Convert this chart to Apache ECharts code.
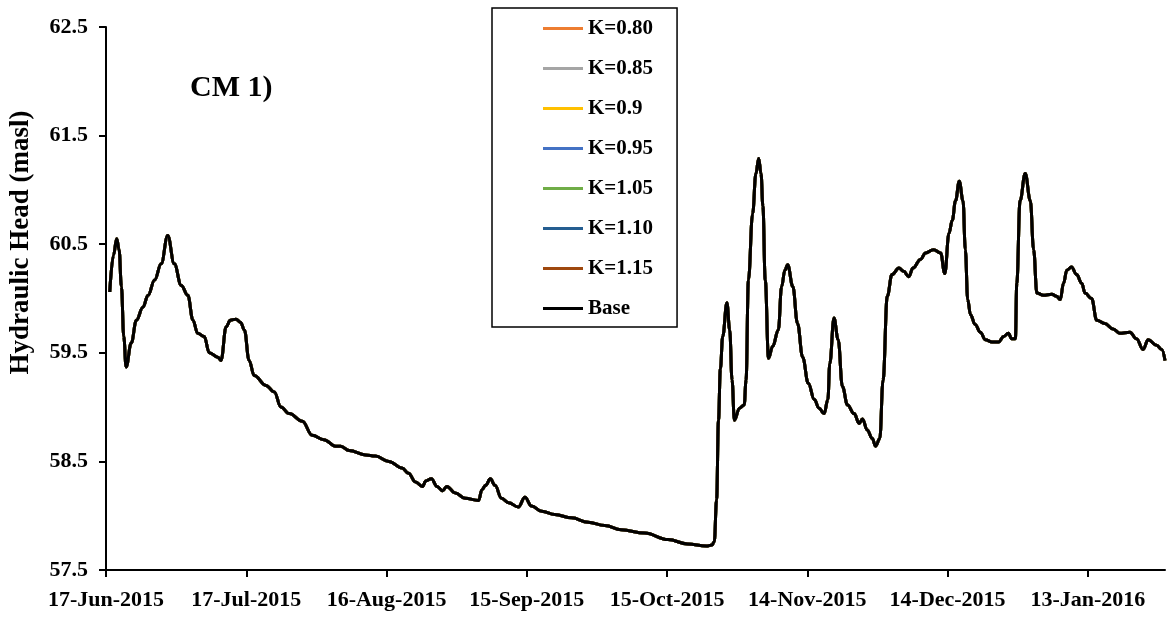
<!DOCTYPE html>
<html>
<head>
<meta charset="utf-8">
<script src="https://cdn.jsdelivr.net/npm/echarts@6/dist/echarts.min.js"></script>
<style>html,body{margin:0;padding:0;background:#fff}#chart{width:1167px;height:622px}</style>
</head>
<body>
<div id="chart"></div>
<script>
// Day offsets since 17-Jun-2015
const START_DATE = '2015-06-17';
const dayOffset = [0.8,1.6,2.3,2.8,3.3,3.8,4.3,5.4,6.5,7.9,9.0,10.4,11.8,13.2,14.6,16.1,17.5,18.6,19.6,21.0,22.1,23.9,24.6,25.7,26.6,27.8,28.8,29.6,30.6,31.7,34.2,36.0,37.4,39.2,42.0,44.1,46.6,49.1,50.2,52.0,55.5,57.6,60.5,63.3,64.7,66.2,67.7,68.4,69.6,70.8,72.0,72.9,74.7,76.8,79.7,80.4,81.2,82.2,83.2,84.6,86.1,88.2,89.6,91.0,93.2,96.0,99.6,103.1,106.7,110.2,115.2,120.2,124.4,128.4,129.6,130.1,130.6,131.0,131.4,131.9,132.8,133.4,133.9,134.4,135.5,136.5,136.9,137.4,138.3,139.0,139.6,140.1,140.5,141.0,141.7,142.6,143.8,144.5,145.2,145.8,146.9,147.9,149.0,150.2,151.5,152.5,153.6,154.4,154.8,155.7,156.6,157.5,158.6,160.0,161.1,161.8,162.8,163.9,164.6,165.5,166.2,167.1,168.1,169.6,170.6,171.7,172.6,174.2,175.3,177.0,178.5,179.4,180.3,181.0,181.7,182.5,183.3,183.8,184.3,184.9,185.9,187.0,188.1,189.5,190.9,192.0,193.0,193.7,194.5,194.8,195.5,196.6,197.7,198.4,199.1,200.5,202.3,203.3,204.1,204.8,205.5,206.5,207.6,208.7,209.4,210.8,211.9,213.6,215.4,216.8,219.0,220.4,221.8,222.9,224.7,225.8,226.5];
const baseHead = [60.06,60.40,60.55,60.45,60.11,59.65,59.37,59.59,59.80,59.92,60.03,60.17,60.32,60.58,60.32,60.12,60.03,59.80,59.68,59.65,59.50,59.46,59.43,59.74,59.80,59.81,59.78,59.71,59.43,59.29,59.20,59.14,59.00,58.94,58.87,58.74,58.70,58.64,58.64,58.60,58.56,58.55,58.50,58.44,58.39,58.31,58.27,58.32,58.34,58.27,58.23,58.27,58.21,58.16,58.14,58.24,58.28,58.34,58.28,58.16,58.12,58.08,58.17,58.09,58.04,58.01,57.98,57.94,57.91,57.87,57.84,57.78,57.74,57.72,57.73,57.76,58.15,58.88,59.35,59.65,59.96,59.71,59.25,58.88,58.99,59.02,59.25,60.17,60.78,61.15,61.29,61.15,60.85,60.17,59.45,59.56,59.71,60.11,60.26,60.31,60.11,59.77,59.46,59.22,59.07,58.99,58.94,59.07,59.40,59.82,59.62,59.19,59.02,58.94,58.85,58.89,58.79,58.71,58.64,58.71,59.25,60.02,60.22,60.28,60.25,60.20,60.28,60.36,60.42,60.45,60.42,60.23,60.60,60.72,60.90,61.08,60.90,60.45,59.99,59.85,59.76,59.69,59.62,59.60,59.60,59.65,59.68,59.63,59.63,60.14,60.90,61.15,60.90,60.45,60.05,60.03,60.04,60.02,59.99,60.14,60.26,60.29,60.22,60.14,60.05,60.00,59.80,59.77,59.72,59.68,59.69,59.63,59.53,59.62,59.57,59.53,59.43];
// Scenario series (visually identical to Base in the figure)
const seriesNames = ['K=0.80','K=0.85','K=0.9','K=0.95','K=1.05','K=1.10','K=1.15','Base'];
const seriesColors = ['#ED7D31','#A5A5A5','#FFC000','#4472C4','#70AD47','#255E91','#9E480E','#000000'];
const scenarioHead = {
  'K=0.80': baseHead, 'K=0.85': baseHead, 'K=0.9': baseHead, 'K=0.95': baseHead,
  'K=1.05': baseHead, 'K=1.10': baseHead, 'K=1.15': baseHead, 'Base': baseHead
};
const yTicks = [57.5, 58.5, 59.5, 60.5, 61.5, 62.5];

const MONTHS = ['Jan','Feb','Mar','Apr','May','Jun','Jul','Aug','Sep','Oct','Nov','Dec'];
const startMs = Date.UTC(2015, 5, 17);
function dayLabel(d) {
  const dt = new Date(startMs + Math.round(d) * 86400000);
  return dt.getUTCDate() + '-' + MONTHS[dt.getUTCMonth()] + '-' + dt.getUTCFullYear();
}
const FONT = "'Liberation Serif','Times New Roman',serif";

const chart = echarts.init(document.getElementById('chart'), null, {renderer: 'canvas'});
const series = seriesNames.map((name, i) => ({
  name: name,
  type: 'line',
  data: dayOffset.map((d, j) => [d, scenarioHead[name][j]]),
  showSymbol: false,
  symbol: 'none',
  smooth: 0.4,
  smoothMonotone: 'x',
  lineStyle: {color: seriesColors[i], width: 3},
  itemStyle: {color: seriesColors[i]},
  z: 2 + i
}));

chart.setOption({
  animation: false,
  backgroundColor: '#ffffff',
  title: {
    text: 'CM 1)', left: 185, top: 68,
    textStyle: {fontFamily: FONT, fontWeight: 'bold', fontSize: 30, color: '#000'}
  },
  grid: {left: 104, right: 2, top: 27, bottom: 52, containLabel: false},
  legend: {
    orient: 'vertical', left: 492, top: 8,
    data: seriesNames,
    icon: 'rect',
    itemWidth: 40, itemHeight: 3, itemGap: 19,
    padding: [10, 24, 8, 51],
    borderColor: '#000', borderWidth: 1.5,
    backgroundColor: '#fff',
    textStyle: {fontFamily: FONT, fontWeight: 'bold', fontSize: 21, lineHeight: 20, color: '#000'}
  },
  xAxis: {
    type: 'value', min: 0, max: 226.5, interval: 30,
    splitLine: {show: false},
    axisLine: {lineStyle: {color: '#000', width: 2}},
    axisTick: {show: true, length: 7, lineStyle: {color: '#000', width: 2}},
    axisLabel: {
      margin: 19, color: '#000', fontFamily: FONT, fontWeight: 'bold', fontSize: 22,
      showMaxLabel: false,
      formatter: v => dayLabel(v)
    }
  },
  yAxis: {
    type: 'value', min: 57.5, max: 62.5, interval: 1,
    name: 'Hydraulic Head (masl)', nameLocation: 'middle', nameGap: 71, nameRotate: 90,
    nameTextStyle: {fontFamily: FONT, fontWeight: 'bold', fontSize: 27, color: '#000', padding: [0, 0, 0, 112]},
    splitLine: {show: false},
    axisLine: {show: true, lineStyle: {color: '#000', width: 2}},
    axisTick: {show: true, length: 7, lineStyle: {color: '#000', width: 2}},
    axisLabel: {
      margin: 18, color: '#000', fontFamily: FONT, fontWeight: 'bold', fontSize: 22,
      formatter: v => yTicks.some(t => Math.abs(t - v) < 1e-6) ? v.toFixed(1) : ''
    }
  },
  series: series
});
</script>
</body>
</html>
